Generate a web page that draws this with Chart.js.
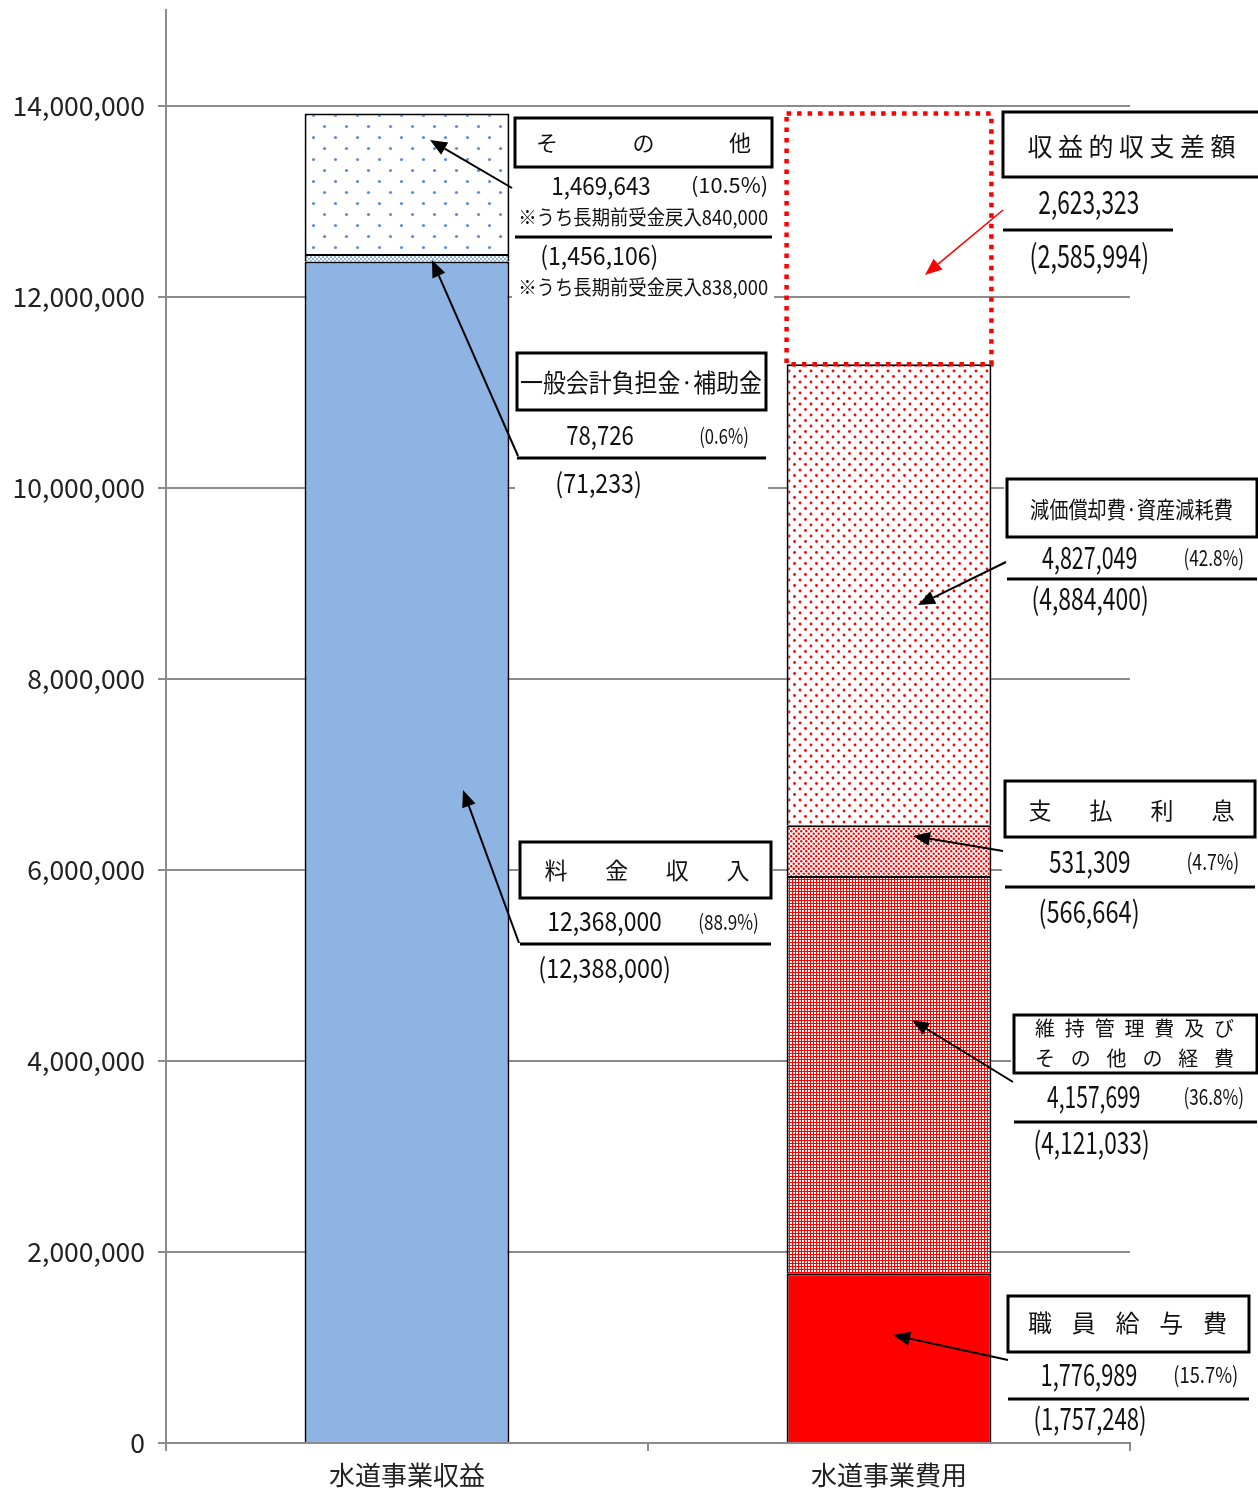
<!DOCTYPE html>
<html>
<head>
<meta charset="utf-8">
<script src="https://cdn.jsdelivr.net/npm/chart.js@4.4.1/dist/chart.umd.min.js"></script>
<style>
html, body { margin: 0; padding: 0; background: #fff; }
canvas { display: block; }
</style>
</head>
<body>
<canvas id="c" width="1258" height="1489"></canvas>
<script>
const categories = ["水道事業収益", "水道事業費用"]

// revenue, bottom to top
const revenueNames = ["料金収入", "一般会計負担金・補助金", "その他"]
const revenueValues = [12368000, 78726, 1469643]
const revenuePrev = [12388000, 71233, 1456106]
const revenuePct = ["88.9%", "0.6%", "10.5%"]

// expenses, bottom to top (last one is the surplus)
const expenseNames = ["職員給与費", "維持管理費及びその他の経費", "支払利息", "減価償却費・資産減耗費", "収益的収支差額"]
const expenseValues = [1776989, 4157699, 531309, 4827049, 2623323]
const expensePrev = [1757248, 4121033, 566664, 4884400, 2585994]
const expensePct = ["15.7%", "36.8%", "4.7%", "42.8%", ""]

const yTicks = [0, 2000000, 4000000, 6000000, 8000000, 10000000, 12000000, 14000000]

const FONT = '"Noto Sans CJK JP", "Noto Sans", sans-serif'
const BLUE = "#8EB4E3"
const RED = "#FF0000"
const GRID = "#8c8c8c"
const fmt = v => v.toLocaleString("en-US")

const ctx = document.getElementById("c").getContext("2d")

function makePattern(w, h, fn) {
    const c = document.createElement("canvas")
    c.width = w
    c.height = h
    fn(c.getContext("2d"), w, h)
    return ctx.createPattern(c, "repeat")
}
function dot(g, x, y, r, col) {
    g.fillStyle = col
    g.beginPath()
    g.arc(x, y, r, 0, Math.PI * 2)
    g.fill()
}
function bg(g, w, h, col) { g.fillStyle = col; g.fillRect(0, 0, w, h) }

const blueDots = makePattern(22, 22, (g, w, h) => { bg(g, w, h, "#fff"); dot(g, 5.5, 5.5, 1.6, "#5b8fdc"); dot(g, 16.5, 16.5, 1.6, "#5b8fdc") })
const blueCheck = makePattern(4, 4, (g, w, h) => { bg(g, w, h, BLUE); g.fillStyle = "#fff"; g.fillRect(0, 0, 2, 2); g.fillRect(2, 2, 2, 2) })
const redDots = makePattern(11, 11, (g, w, h) => { bg(g, w, h, "#fff"); dot(g, 2.5, 2.5, 1.4, RED); dot(g, 8, 8, 1.4, RED) })
const redDense = makePattern(5, 5, (g, w, h) => { bg(g, w, h, "#fff"); dot(g, 1.25, 1.25, 1.2, RED); dot(g, 3.75, 3.75, 1.2, RED) })
const redCheck = makePattern(3, 3, (g, w, h) => { bg(g, w, h, RED); g.fillStyle = "#fff"; g.fillRect(1, 1, 2, 2) })

const revenueFills = [BLUE, blueCheck, blueDots]
const expenseFills = [RED, redCheck, redDense, redDots, "rgba(0,0,0,0)"]

const datasets = []
revenueNames.forEach((n, i) => datasets.push({
    label: n, data: [revenueValues[i], null], backgroundColor: revenueFills[i],
    borderColor: "#000", borderWidth: 2, stack: "s"
}))
expenseNames.forEach((n, i) => datasets.push({
    label: n, data: [null, expenseValues[i]], backgroundColor: expenseFills[i],
    borderColor: "#000", borderWidth: i === 4 ? 0 : 2, stack: "s"
}))

// callout layout (pixels). t: [kind, text, x1, x2, y, size]
const notes = [
    { bg: [512, 114, 262, 188], box: [515, 118, 257, 49], lines: [[515, 772, 237]], arrow: [512, 188, 430, 140, "#000"],
      t: [["s", "その他", 547, 740, 143, 22], ["f", fmt(revenueValues[2]), 553, 650, 185, 25], ["f", "(" + revenuePct[2] + ")", 692, 767, 185, 21],
          ["f", "※うち長期前受金戻入840,000", 520, 768, 217, 20], ["f", "(" + fmt(revenuePrev[2]) + ")", 542, 657, 255, 25],
          ["f", "※うち長期前受金戻入838,000", 520, 768, 287, 20]] },
    { bg: [515, 350, 253, 148], box: [517, 353, 249, 57], lines: [[517, 766, 458]], arrow: [518, 456, 432, 260, "#000"],
      t: [["f", "一般会計負担金·補助金", 521, 762, 382, 25], ["f", fmt(revenueValues[1]), 567, 633, 435, 27], ["f", "(" + revenuePct[1] + ")", 700, 748, 436, 21],
          ["f", "(" + fmt(revenuePrev[1]) + ")", 557, 640, 483, 27]] },
    { bg: [518, 840, 255, 145], box: [520, 842, 251, 56], lines: [[520, 771, 944]], arrow: [519, 943, 463, 790, "#000"],
      t: [["s", "料金収入", 556, 738, 870, 23], ["f", fmt(revenueValues[0]), 549, 661, 921, 27], ["f", "(" + revenuePct[0] + ")", 699, 758, 922, 21],
          ["f", "(" + fmt(revenuePrev[0]) + ")", 540, 669, 968, 27]] },
    { bg: [1001, 110, 257, 165], box: [1003, 112, 262, 65], lines: [[1003, 1173, 230]], arrow: [1003, 210, 925, 275, RED],
      t: [["s", "収益的収支差額", 1040, 1223, 146, 25], ["f", fmt(expenseValues[4]), 1039, 1138, 202, 32],
          ["f", "(" + fmt(expensePrev[4]) + ")", 1031, 1147, 256, 32]] },
    { bg: [1004, 476, 254, 140], box: [1007, 479, 250, 58], lines: [[1007, 1257, 579]], arrow: [1006, 562, 918, 605, "#000"],
      t: [["f", "減価償却費·資産減耗費", 1030, 1232, 509, 23], ["f", fmt(expenseValues[3]), 1042, 1137, 558, 30], ["f", "(" + expensePct[3] + ")", 1185, 1243, 558, 22],
          ["f", "(" + fmt(expensePrev[3]) + ")", 1033, 1147, 599, 30]] },
    { bg: [1002, 779, 256, 150], box: [1005, 781, 250, 56], lines: [[1005, 1255, 887]], arrow: [1003, 851, 913, 836, "#000"],
      t: [["s", "支払利息", 1040, 1223, 810, 23], ["f", fmt(expenseValues[2]), 1049, 1130, 862, 30], ["f", "(" + expensePct[2] + ")", 1188, 1238, 862, 22],
          ["f", "(" + fmt(expensePrev[2]) + ")", 1040, 1138, 912, 30]] },
    { bg: [1011, 1012, 247, 150], box: [1014, 1015, 243, 58], lines: [[1014, 1257, 1122]], arrow: [1013, 1082, 912, 1020, "#000"],
      t: [["s", "維持管理費及び", 1045, 1224, 1028, 20], ["s", "その他の経費", 1045, 1224, 1058, 20],
          ["f", fmt(expenseValues[1]), 1047, 1140, 1097, 30], ["f", "(" + expensePct[1] + ")", 1185, 1243, 1097, 22],
          ["f", "(" + fmt(expensePrev[1]) + ")", 1035, 1148, 1143, 30]] },
    { bg: [1005, 1293, 253, 146], box: [1008, 1296, 241, 56], lines: [[1008, 1249, 1399]], arrow: [1008, 1360, 893, 1335, "#000"],
      t: [["s", "職員給与費", 1040, 1215, 1323, 24], ["f", fmt(expenseValues[0]), 1042, 1137, 1375, 30], ["f", "(" + expensePct[0] + ")", 1175, 1237, 1375, 22],
          ["f", "(" + fmt(expensePrev[0]) + ")", 1035, 1145, 1419, 30]] }
]

function fitText(c, s, x1, x2, yc, size) {
    c.font = size + "px " + FONT
    c.textAlign = "left"
    c.textBaseline = "middle"
    const m = c.measureText(s)
    const ink = m.actualBoundingBoxLeft + m.actualBoundingBoxRight
    const k = (x2 - x1) / ink
    c.save()
    c.translate(x1 + m.actualBoundingBoxLeft * k, yc)
    c.scale(k, 1)
    c.fillText(s, 0, 0)
    c.restore()
}
function spreadText(c, s, c1, c2, yc, size) {
    const ch = [...s]
    c.font = size + "px " + FONT
    c.textAlign = "center"
    c.textBaseline = "middle"
    ch.forEach((t, i) => c.fillText(t, c1 + (c2 - c1) * i / (ch.length - 1), yc))
}
function arrow(c, x1, y1, x2, y2, col) {
    const a = Math.atan2(y2 - y1, x2 - x1)
    const L = 17, W = 7
    const bx = x2 - L * Math.cos(a), by = y2 - L * Math.sin(a)
    c.strokeStyle = col
    c.fillStyle = col
    c.lineWidth = col === RED ? 1.6 : 2
    c.beginPath(); c.moveTo(x1, y1); c.lineTo(bx, by); c.stroke()
    c.beginPath()
    c.moveTo(x2, y2)
    c.lineTo(bx + W * Math.sin(a), by - W * Math.cos(a))
    c.lineTo(bx - W * Math.sin(a), by + W * Math.cos(a))
    c.closePath(); c.fill()
}

const calloutPlugin = {
    id: "callouts",
    afterDatasetsDraw(chart) {
        // dotted red frame for the surplus segment
        const el = chart.getDatasetMeta(datasets.length - 1).data[1]
        const p = el.getProps(["x", "y", "base", "width"], true)
        const c = chart.ctx
        c.save()
        c.strokeStyle = RED
        c.lineWidth = 4.5
        c.setLineDash([4.5, 6])
        c.strokeRect(p.x - p.width / 2, p.y, p.width, p.base - p.y)
        c.restore()
    },
    afterDraw(chart) {
        const c = chart.ctx
        c.save()
        notes.forEach(n => {
            c.fillStyle = "#fff"
            c.fillRect(...n.bg)
            c.strokeStyle = "#000"
            c.lineWidth = 3
            c.strokeRect(...n.box)
            n.lines.forEach(l => { c.beginPath(); c.moveTo(l[0], l[2]); c.lineTo(l[1], l[2]); c.stroke() })
            c.fillStyle = "#111"
            n.t.forEach(t => t[0] === "s" ? spreadText(c, ...t.slice(1)) : fitText(c, ...t.slice(1)))
            arrow(c, ...n.arrow)
        })
        c.restore()
    }
}

new Chart(ctx, {
    type: "bar",
    data: { labels: categories, datasets: datasets },
    options: {
        responsive: false,
        animation: false,
        devicePixelRatio: 1,
        barPercentage: 0.425,
        categoryPercentage: 1,
        layout: { padding: { top: 10, right: 128, left: 0, bottom: 0 } },
        plugins: { legend: { display: false }, tooltip: { enabled: false } },
        scales: {
            x: {
                stacked: true,
                afterFit: s => { s.height = 46 },
                grid: { drawOnChartArea: false, color: GRID, lineWidth: 2, tickLength: 8, offset: true },
                border: { color: GRID, width: 2 },
                ticks: { padding: 9, color: "#222", font: { size: 26, family: FONT } }
            },
            y: {
                stacked: true,
                min: 0,
                max: 15000000,
                afterFit: s => { s.width = 166; s.paddingTop = 0; s.paddingBottom = 0 },
                afterBuildTicks: s => { s.ticks = yTicks.map(v => ({ value: v })) },
                grid: { color: GRID, lineWidth: 2, tickLength: 8 },
                border: { color: GRID, width: 2 },
                ticks: { padding: 13, color: "#222", font: { size: 26.5, family: FONT }, callback: v => fmt(v) }
            }
        }
    },
    plugins: [calloutPlugin]
})
</script>
</body>
</html>
